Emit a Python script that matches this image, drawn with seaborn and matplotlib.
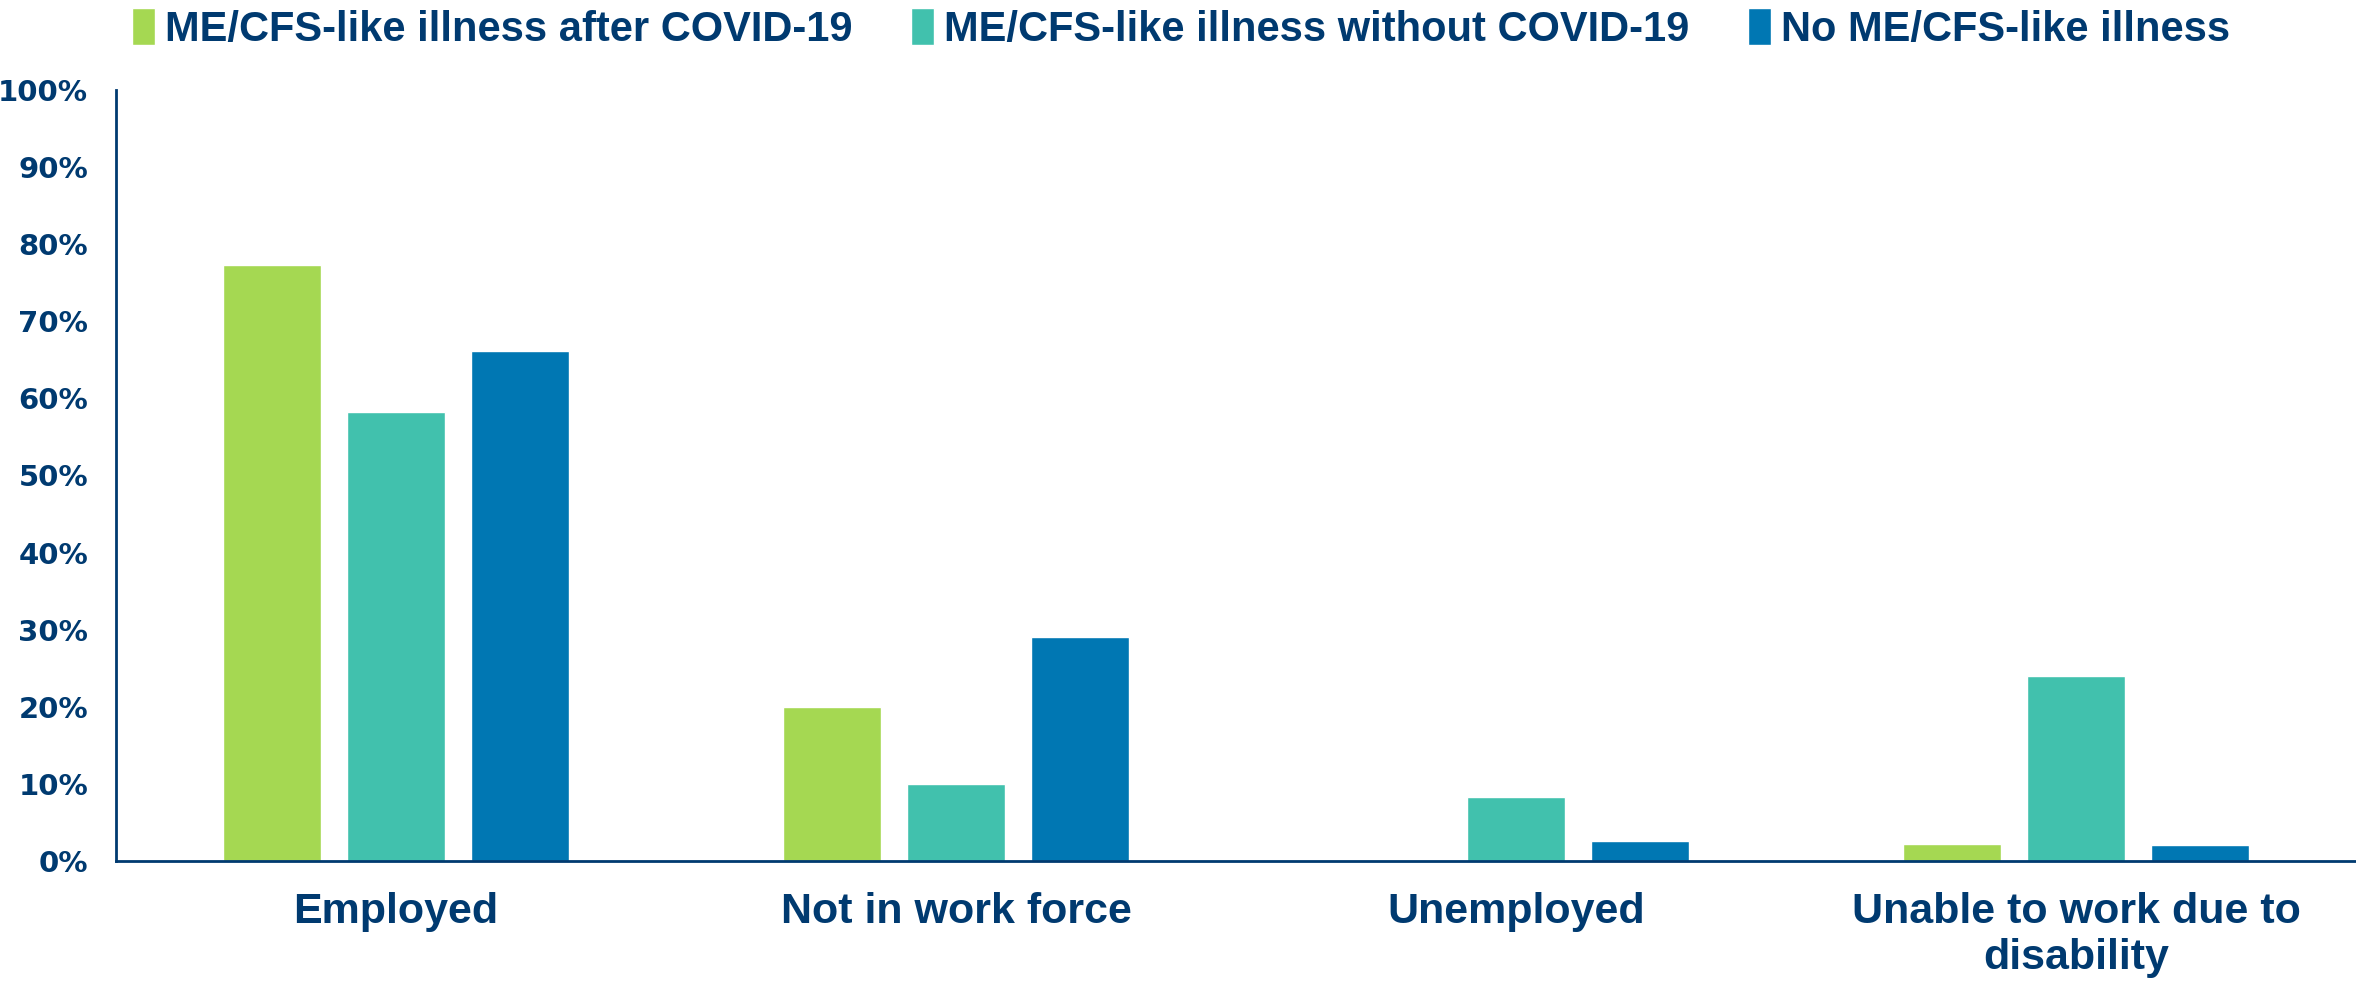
import matplotlib
matplotlib.use("Agg")
import matplotlib.pyplot as plt
import seaborn as sns
import pandas as pd
from matplotlib.ticker import FuncFormatter, MultipleLocator

categories = ["Employed", "Not in work force", "Unemployed", "Unable to work due to\ndisability"]
series = ["ME/CFS-like illness after COVID-19", "ME/CFS-like illness without COVID-19", "No ME/CFS-like illness"]
after_covid = [77.3, 20.0, 0.0, 2.2]
without_covid = [58.2, 10.0, 8.3, 24.0]
no_illness = [66.2, 29.0, 2.6, 2.1]
colors = ["#A5D852", "#41C1AD", "#0077B3"]
navy = "#003A70"

rows = []
for s, vals in zip(series, [after_covid, without_covid, no_illness]):
    for c, v in zip(categories, vals):
        rows.append({"cat": c, "series": s, "val": v})
df = pd.DataFrame(rows)

sns.set_theme(style="white")
plt.rcParams["font.family"] = ["Liberation Sans", "DejaVu Sans"]

fig = plt.figure(figsize=(23.56, 9.83), dpi=100)
ax = fig.add_axes([116/2356, 1-861/983, 1-116/2356, (861-90)/983])
sns.barplot(data=df, x="cat", y="val", hue="series", order=categories, hue_order=series,
            palette=colors, width=0.664, gap=0.21, ax=ax, saturation=1, legend=True)
ax.set_xlim(-0.5, 3.5)
ax.set_ylim(0, 100)
ax.yaxis.set_major_locator(MultipleLocator(10))
ax.yaxis.set_major_formatter(FuncFormatter(lambda v, p: f"{int(v)}%"))
ax.set_xlabel("")
ax.set_ylabel("")
for s in ["top", "right"]:
    ax.spines[s].set_visible(False)
for s in ["left", "bottom"]:
    ax.spines[s].set_color(navy)
    ax.spines[s].set_linewidth(2)
ax.tick_params(axis="both", length=0)
ax.tick_params(axis="y", pad=20)
ax.tick_params(axis="x", pad=22)
for lbl in ax.get_yticklabels():
    lbl.set_fontfamily("DejaVu Sans")
    lbl.set_fontweight("bold")
    lbl.set_fontsize(21)
    lbl.set_color(navy)
for lbl in ax.get_xticklabels():
    lbl.set_fontweight("bold")
    lbl.set_fontsize(31)
    lbl.set_color(navy)
    lbl.set_linespacing(1.2)

leg = ax.legend(loc="upper center", bbox_to_anchor=(0.5 - 116/2356/2, 1.155), ncol=3, frameon=False,
                handlelength=0.55, handleheight=1.0, handletextpad=0.25, columnspacing=1.4,
                prop={"family": ["Liberation Sans"], "weight": "bold", "size": 30})
for t in leg.get_texts():
    t.set_color(navy)

fig.savefig("out.png", dpi=100)
